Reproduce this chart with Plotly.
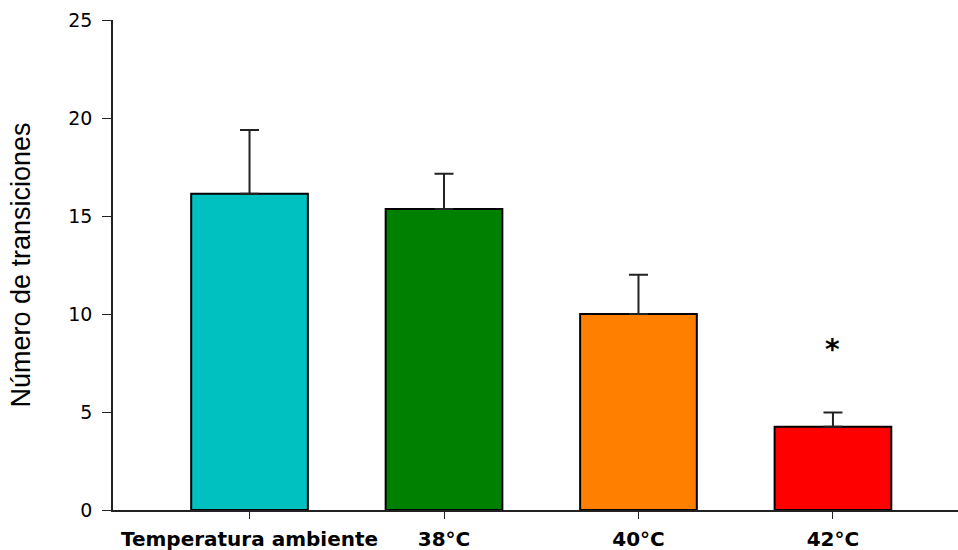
import plotly.graph_objects as go

categories = ["Temperatura ambiente", "38°C", "40°C", "42°C"]
means = [16.14, 15.36, 10.0, 4.25]
errors_plus = [3.25, 1.8, 2.0, 0.72]
colors = ["#00C0C0", "#008000", "#FF8000", "#FF0000"]
y_ticks = [0, 5, 10, 15, 20, 25]
star_category = "42°C"
star_value = 8.2

xpos = list(range(len(categories)))

fig = go.Figure()
fig.add_trace(go.Bar(
    x=xpos, y=means, width=0.6,
    marker=dict(color=colors, line=dict(color="black", width=2)),
    error_y=dict(type="data", array=errors_plus, arrayminus=[0]*len(means),
                 symmetric=False, color="#222222", thickness=2, width=9.5),
    showlegend=False,
))

fig.add_annotation(x=categories.index(star_category), y=star_value, text="<b>*</b>",
                   showarrow=False, font=dict(size=28, color="black", family="DejaVu Sans, Liberation Sans"))

fig.update_layout(
    width=958, height=550,
    margin=dict(l=113, r=0, t=20, b=40),
    plot_bgcolor="white", paper_bgcolor="white",
    bargap=0.4,
    xaxis=dict(
        range=[-0.702, 3.643], tickmode="array", tickvals=xpos, ticktext=categories,
        showline=True, linecolor="#222222", linewidth=1.5, automargin=False,
        ticks="outside", ticklen=7, tickcolor="#222222", ticklabelstandoff=3,
        tickfont=dict(family="DejaVu Sans, Liberation Sans", size=20, color="black", weight="bold"),
        showgrid=False, zeroline=False,
    ),
    yaxis=dict(
        range=[0, 25], tickvals=y_ticks, showline=True, linecolor="#222222", linewidth=1.5,
        ticks="outside", ticklen=9, tickcolor="#222222", ticklabelstandoff=6,
        tickfont=dict(family="DejaVu Sans, Liberation Sans", size=19, color="black"),
        showgrid=False, zeroline=False, automargin=False,
        title=dict(text="Número de transiciones", standoff=30,
                   font=dict(family="Liberation Sans Narrow, Arial Narrow, Liberation Sans", size=27, color="black")),
    ),
)

fig.write_html("out.html")
